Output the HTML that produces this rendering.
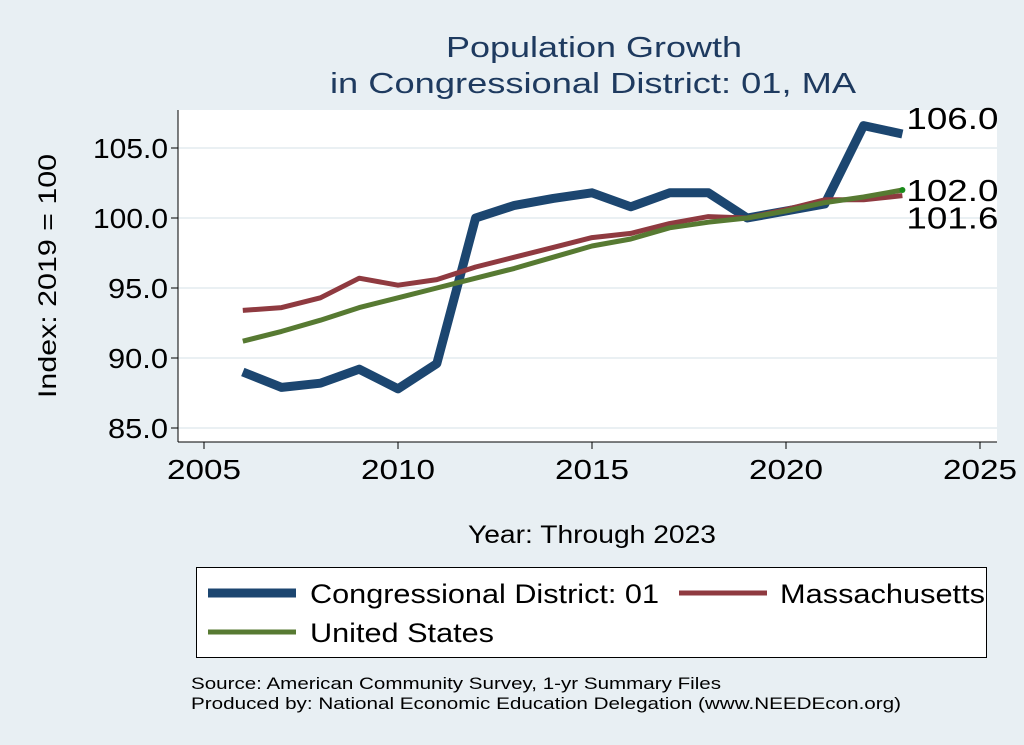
<!DOCTYPE html>
<html><head><meta charset="utf-8"><style>
body{margin:0;background:#e8eff3;}
svg{display:block;font-family:"Liberation Sans",sans-serif;}
</style></head><body>
<svg id="c" width="1024" height="745">
<rect x="0" y="0" width="1024" height="745" fill="#e8eff3"/>
<text x="594" y="57" font-size="29" fill="#1e3a5f" text-anchor="middle" textLength="296" lengthAdjust="spacingAndGlyphs">Population Growth</text>
<text x="593" y="93" font-size="29" fill="#1e3a5f" text-anchor="middle" textLength="526" lengthAdjust="spacingAndGlyphs">in Congressional District: 01, MA</text>
<rect x="178" y="110" width="819" height="332" fill="#ffffff"/>
<g id="grid"></g>
<g id="axes"></g>
<g id="series"></g>
<text x="56" y="276" font-size="25" fill="#000" text-anchor="middle" transform="rotate(-90 56 276)" textLength="244" lengthAdjust="spacingAndGlyphs">Index: 2019 = 100</text>
<text x="592" y="543" font-size="25" fill="#000" text-anchor="middle" textLength="248" lengthAdjust="spacingAndGlyphs">Year: Through 2023</text>
<g>
<rect x="196.5" y="567.5" width="790" height="90" fill="#fff" stroke="#000" stroke-width="1"/>
<line x1="208" y1="593" x2="296" y2="593" stroke="#1c4670" stroke-width="9"/>
<text x="310" y="603" font-size="27" textLength="349" lengthAdjust="spacingAndGlyphs">Congressional District: 01</text>
<line x1="679" y1="593" x2="767" y2="593" stroke="#8f3a40" stroke-width="5"/>
<text x="780" y="603" font-size="27" textLength="205" lengthAdjust="spacingAndGlyphs">Massachusetts</text>
<line x1="208" y1="632" x2="296" y2="632" stroke="#577a32" stroke-width="5"/>
<text x="310" y="642" font-size="27" textLength="184" lengthAdjust="spacingAndGlyphs">United States</text>
</g>
<text x="191" y="689" font-size="17" textLength="530" lengthAdjust="spacingAndGlyphs">Source: American Community Survey, 1-yr Summary Files</text>
<text x="191" y="709" font-size="17" textLength="710" lengthAdjust="spacingAndGlyphs">Produced by: National Economic Education Delegation (www.NEEDEcon.org)</text>
</svg>
<script>
const years=[2006,2007,2008,2009,2010,2011,2012,2013,2014,2015,2016,2017,2018,2019,2020,2021,2022,2023];
const district=[89.0,87.9,88.2,89.2,87.8,89.6,100.0,100.9,101.4,101.8,100.8,101.8,101.8,100.0,100.5,101.0,106.6,106.0];
const massachusetts=[93.4,93.6,94.3,95.7,95.2,95.6,96.5,97.2,97.9,98.6,98.9,99.6,100.1,100.0,100.6,101.3,101.3,101.6];
const unitedStates=[91.2,91.9,92.7,93.6,94.3,95.0,95.7,96.4,97.2,98.0,98.5,99.3,99.7,100.0,100.5,101.1,101.5,102.0];
const xTicks=[2005,2010,2015,2020,2025];
const yTicks=[85,90,95,100,105];
const yTickLabels=["85.0","90.0","95.0","100.0","105.0"];
const NS="http://www.w3.org/2000/svg";
const X=v=>204+(v-2005)*38.8;
const Y=v=>218-(v-100)*14;
function mk(tag,attrs,parent){const e=document.createElementNS(NS,tag);for(const k in attrs)e.setAttribute(k,attrs[k]);parent.appendChild(e);return e;}
const grid=document.getElementById('grid'),axes=document.getElementById('axes'),ser=document.getElementById('series');
mk('line',{x1:178,y1:110,x2:178,y2:442,stroke:'#000','stroke-width':1},axes);
mk('line',{x1:178,y1:442,x2:997,y2:442,stroke:'#000','stroke-width':1},axes);
yTicks.forEach((t,i)=>{
 const g=mk('line',{x1:178,y1:Y(t),x2:997,y2:Y(t),stroke:'#eaf0f3','stroke-width':2},grid);
 
 
 mk('line',{x1:171,y1:Y(t),x2:178,y2:Y(t),stroke:'#000'},axes);
 const lbl=yTickLabels[i];
 const tx=mk('text',{x:168,y:Y(t)+10,'font-size':28,'text-anchor':'end',textLength:lbl.length*15,lengthAdjust:'spacingAndGlyphs'},axes);
 tx.textContent=lbl;
 
 
});
xTicks.forEach(t=>{
 mk('line',{x1:X(t),y1:442,x2:X(t),y2:449,stroke:'#000'},axes);
 const tx=mk('text',{x:X(t),y:479,'font-size':28,'text-anchor':'middle',textLength:74,lengthAdjust:'spacingAndGlyphs'},axes);
 tx.textContent=t;
 
 
});
function line(vals,color,w,name){
 const p=mk('polyline',{points:vals.map((v,i)=>X(years[i])+','+Y(v)).join(' '),fill:'none',stroke:color,'stroke-width':w,'stroke-linejoin':'round'},ser);
 
 
}
line(district,'#1c4670',9,'line-district');
line(massachusetts,'#8f3a40',5,'line-massachusetts');
line(unitedStates,'#577a32',5,'line-us');
const last=years.length-1;
mk('circle',{cx:X(years[last]),cy:Y(unitedStates[last]),r:3,fill:'#1a8a1a'},ser);
[[district,'label-district',-5],[unitedStates,'label-us',11],[massachusetts,'label-massachusetts',33]].forEach(([a,n,dy])=>{
 const tx=mk('text',{x:X(years[last])+4,y:Y(a[last])+dy,'font-size':31,textLength:92,lengthAdjust:'spacingAndGlyphs'},ser);
 tx.textContent=a[last].toFixed(1);
 
 
});
</script>
</body></html>
